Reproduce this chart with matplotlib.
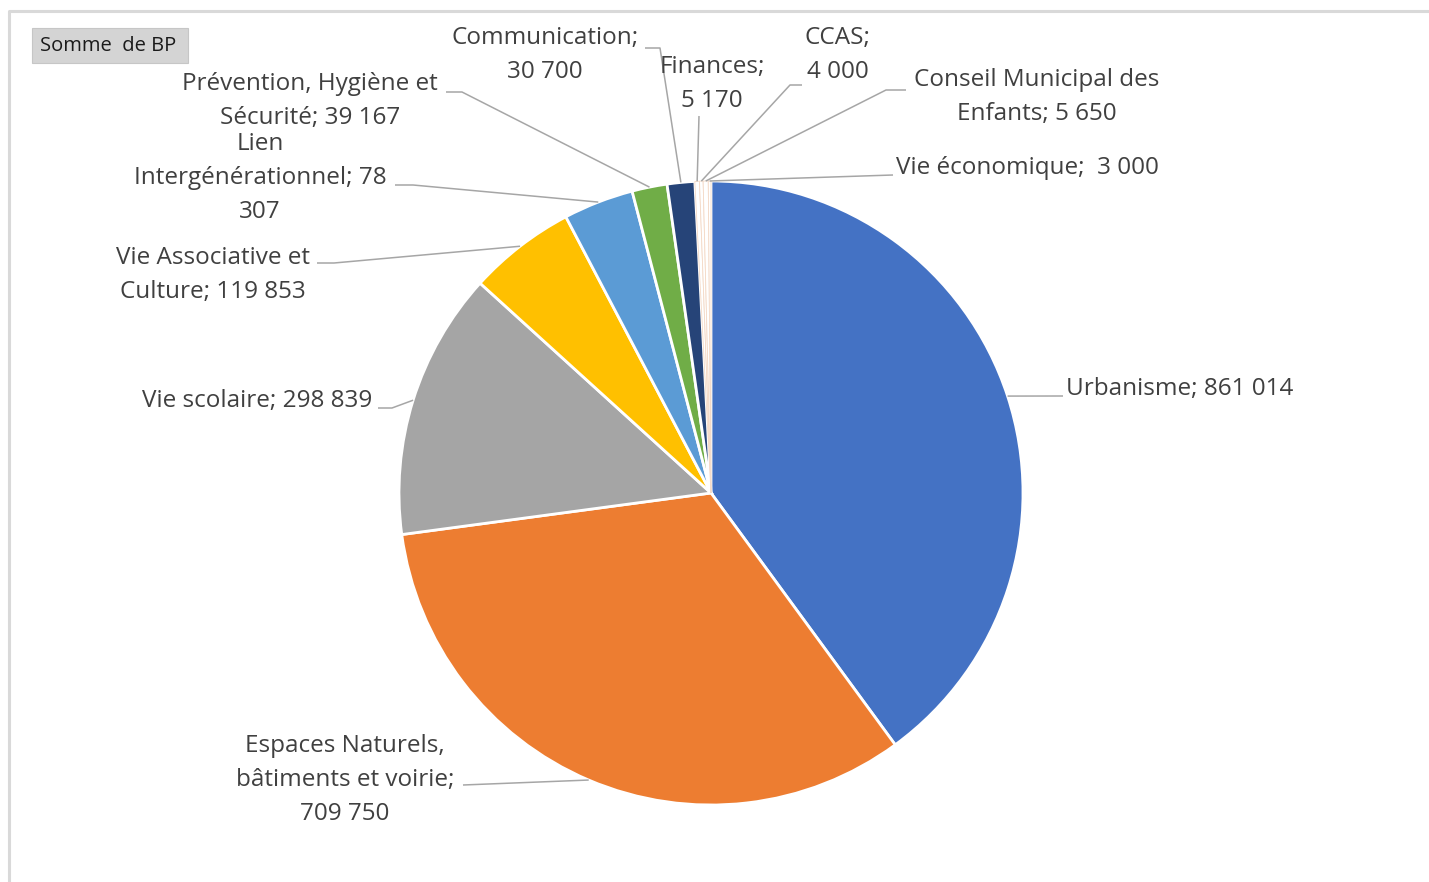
import matplotlib
matplotlib.use("Agg")
import matplotlib.pyplot as plt
import numpy as np
from matplotlib.patches import Rectangle

# Data: budget (Somme de BP) per domain, clockwise from 12 o'clock
categories = [
    "Urbanisme",
    "Espaces Naturels, bâtiments et voirie",
    "Vie scolaire",
    "Vie Associative et Culture",
    "Lien Intergénérationnel",
    "Prévention, Hygiène et Sécurité",
    "Communication",
    "Finances",
    "CCAS",
    "Conseil Municipal des Enfants",
    "Vie économique",
]
values = [861014, 709750, 298839, 119853, 78307, 39167, 30700, 5170, 4000, 5650, 3000]
colors = ["#4472C4", "#ED7D31", "#A5A5A5", "#FFC000", "#5B9BD5", "#70AD47",
          "#264478", "#FFFFFF", "#FFFFFF", "#FFFFFF", "#FFFFFF"]


def fmt(v):
    return f"{v:,}".replace(",", " ")


# label text as laid out in the original (line breaks as in Excel)
label_lines = [
    [f"Urbanisme; {fmt(values[0])}"],
    ["Espaces Naturels,", "bâtiments et voirie;", fmt(values[1])],
    [f"Vie scolaire; {fmt(values[2])}"],
    ["Vie Associative et", f"Culture; {fmt(values[3])}"],
    ["Lien", "Intergénérationnel; 78", "307"],
    ["Prévention, Hygiène et", f"Sécurité; {fmt(values[5])}"],
    ["Communication;", fmt(values[6])],
    ["Finances;", fmt(values[7])],
    ["CCAS;", fmt(values[8])],
    ["Conseil Municipal des", f"Enfants; {fmt(values[9])}"],
    [f"Vie économique;  {fmt(values[10])}"],
]

# layout in pixel coords (y measured from top): text x, first line y, alignment,
# and leader line points from the label towards the slice
W, H = 1429, 882
layout = [
    (1066, 389, "left", [(1063, 396)]),
    (345, 746, "center", [(463, 785)]),
    (372, 401, "right", [(378, 408), (392, 408)]),
    (213, 258, "center", [(317, 263), (334, 263)]),
    (260, 144, "center", [(395, 185), (413, 185)]),
    (310, 84, "center", [(446, 92), (462, 92)]),
    (545, 38, "center", [(645, 48), (660, 48)]),
    (712, 67, "center", [(699, 116)]),
    (838, 38, "center", [(802, 85), (790, 85)]),
    (1037, 80, "center", [(906, 90), (886, 90)]),
    (896, 168, "left", [(893, 175)]),
]
LINE_STEP = 34

CX, CY, R = 711, 493, 312
TEXT_COLOR = "#404040"
LEADER_COLOR = "#A6A6A6"


def P(x, y):
    return x, H - y


fig = plt.figure(figsize=(W / 100, H / 100), dpi=100)
ax = fig.add_axes([0, 0, 1, 1])

wedges, _ = ax.pie(
    values,
    colors=colors,
    startangle=90,
    counterclock=False,
    center=P(CX, CY),
    radius=R,
    wedgeprops=dict(edgecolor="white", linewidth=2),
    frame=True,
)
ax.set_xlim(0, W)
ax.set_ylim(0, H)
ax.axis("off")

# faint outline on the tiny slices near the top
for w in wedges[7:]:
    w.set_edgecolor("#F4D9C6")
    w.set_linewidth(0.6)

for w, lines, (tx, ty, ha, pts) in zip(wedges, label_lines, layout):
    theta = np.deg2rad((w.theta1 + w.theta2) / 2)
    ax_x = CX + R * np.cos(theta)
    ax_y = CY - R * np.sin(theta)
    path = [P(*p) for p in pts] + [P(ax_x, ax_y)]
    xs, ys = zip(*path)
    ax.plot(xs, ys, color=LEADER_COLOR, lw=1.1, solid_capstyle="butt", zorder=1)
    for i, line in enumerate(lines):
        ax.text(*P(tx, ty + i * LINE_STEP), line, ha=ha, va="center",
                fontsize=17.5, family="Open Sans", color=TEXT_COLOR)

# "Somme de BP" field button
ax.add_patch(Rectangle(P(32, 63), 156, 35, facecolor="#D4D4D4",
                       edgecolor="#C6C6C6", lw=0.8))
ax.text(*P(108, 46), "Somme  de BP", ha="center", va="center",
        fontsize=14.5, family="Open Sans", color="#1a1a1a")

# chart area frame
ax.plot([9, 9, W], [0, H - 11, H - 11], color="#D9D9D9", lw=2.2)

fig.savefig("out.png", dpi=100, facecolor="white")
